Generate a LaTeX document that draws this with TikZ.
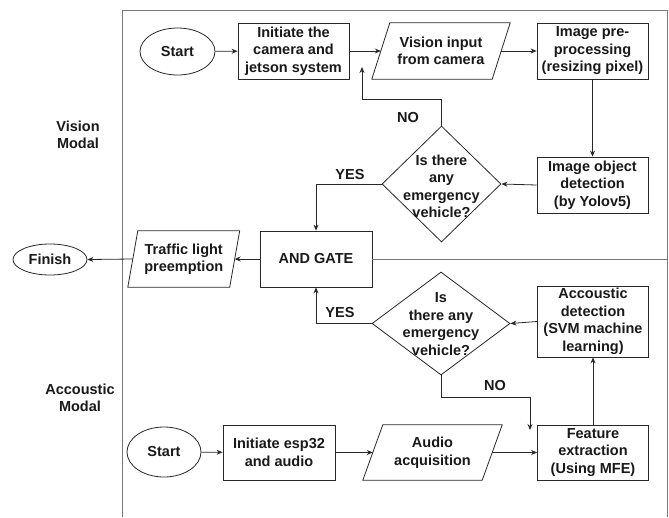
\documentclass[tikz,border=0pt]{standalone}
\usepackage{fontspec}
\setmainfont{Liberation Sans}
\usetikzlibrary{shapes.geometric,arrows.meta}
\definecolor{framecol}{RGB}{120,120,120}
\definecolor{linecol}{RGB}{40,40,40}
\begin{document}
\begin{tikzpicture}[x=1pt,y=-1pt,
  every node/.style={font=\bfseries\fontsize{14.5}{17.5}\selectfont, align=center, inner sep=0pt, text=black!90},
  box/.style={draw=linecol, rectangle, line width=0.8pt, minimum width=111pt, minimum height=56pt},
  oval/.style={draw=linecol, ellipse, line width=0.8pt},
  dia/.style={draw=linecol, diamond, line width=0.8pt},
  ghost/.style={rectangle, minimum height=56pt},
  shapeline/.style={draw=linecol, line width=0.8pt},
  arr/.style={draw=linecol, line width=0.8pt, -{Stealth[length=6pt,width=5pt]}},
  frameline/.style={draw=framecol, line width=0.9pt}
]
\useasboundingbox (0,0) rectangle (669,517);

% frame
\coordinate (ftl) at (122,10);
\coordinate (ftr) at (667,10);
\coordinate (fbl) at (122,517);
\coordinate (fbr) at (667,517);
\coordinate (sepend) at (667,259);
\draw[frameline] (fbl) -- (ftl) -- (ftr) -- (fbr);

% side labels
\node (vlab) at (78,135) {Vision\\Modal};
\node (alab) at (80,398) {Accoustic\\Modal};

% vision row
\node[oval, minimum width=75pt, minimum height=47pt] (start1) at (177.5,51.5) {Start};
\node[box] (init1) at (293.5,51) {Initiate the\\camera and\\jetson system};
\node[ghost, minimum width=120pt] (vis) at (441,51) {Vision input\\from camera};
\draw[shapeline] ([xshift=9pt]vis.north west) -- ([xshift=9pt]vis.north east) -- ([xshift=-9pt]vis.south east) -- ([xshift=-9pt]vis.south west) -- cycle;
\node[box] (pre) at (592.5,51) {Image pre-\\processing\\(resizing pixel)};
\node[box] (det) at (592.5,185) {Image object\\detection\\(by Yolov5)};
\node[dia, minimum width=119pt, minimum height=116pt] (dia1) at (441.5,184) {};
\node (dia1t) at (441.5,186.5) {Is there\\any\\emergency\\vehicle?};

% middle
\node[box, minimum width=112pt] (andg) at (316,259) {AND GATE};
\node[ghost, minimum width=101.5pt] (traf) at (183.75,259) {Traffic light\\preemption};
\draw[shapeline] ([xshift=5pt]traf.north west) -- ([xshift=5pt]traf.north east) -- ([xshift=-5pt]traf.south east) -- ([xshift=-5pt]traf.south west) -- cycle;
\node[oval, minimum width=74pt, minimum height=31pt] (fin) at (50,259.5) {Finish};

% acoustic part
\node[box, minimum height=71pt] (acc) at (593,321.5) {Accoustic\\detection\\(SVM machine\\learning)};
\node[dia, minimum width=138pt, minimum height=103pt] (dia2) at (441,323.5) {};
\node (dia2t) at (441,324) {Is\\there any\\emergency\\vehicle?};
\node[oval, minimum width=74pt, minimum height=50pt] (start2) at (164,452) {Start};
\node[box, minimum width=112pt, minimum height=55pt] (init2) at (279,452.5) {Initiate esp32\\and audio};
\node[ghost, minimum width=119pt, minimum height=55pt] (aud) at (432.5,452.5) {Audio\\acquisition};
\draw[shapeline] ([xshift=10pt]aud.north west) -- ([xshift=10pt]aud.north east) -- ([xshift=-10pt]aud.south east) -- ([xshift=-10pt]aud.south west) -- cycle;
\node[box, minimum height=55pt] (feat) at (593,452.5) {Feature\\extraction\\(Using MFE)};

% connectors vision
\draw[arr] (start1) -- (init1);
\draw[arr] (init1.east) -- (vis.west);
\draw[arr] (vis.east) -- (pre.west);
\draw[arr] (pre.south) -- (det.north);
\draw[arr] (det.west) -- (dia1.east);
\coordinate (noend1) at (362,67);
\draw[arr] (dia1.north) -- ++(0,-26) -| (noend1);
\node (no1) at (408,118) {NO};
\draw[arr] (dia1.west) -| (andg.north);
\node (yes1) at (350,175) {YES};

% middle connectors
\draw[frameline] (andg.east) -- (sepend);
\draw[arr] (andg.west) -- (traf.east);
\draw[arr] (traf.west) -- (fin.east);

% acoustic connectors
\draw[arr] (start2) -- (init2);
\draw[arr] (init2.east) -- (aud.west);
\draw[arr] (aud.east) -- (feat.west);
\draw[arr] (feat.north) -- (acc.south);
\draw[arr] (acc.west) -- (dia2.east);
\draw[arr] (dia2.west) -| (andg.south);
\node (yes2) at (340,313) {YES};
\coordinate (noend2) at (530,430);
\draw[arr] (dia2.south) -- ++(0,22) -| (noend2);
\node (no2) at (495,386) {NO};
\end{tikzpicture}
\end{document}
